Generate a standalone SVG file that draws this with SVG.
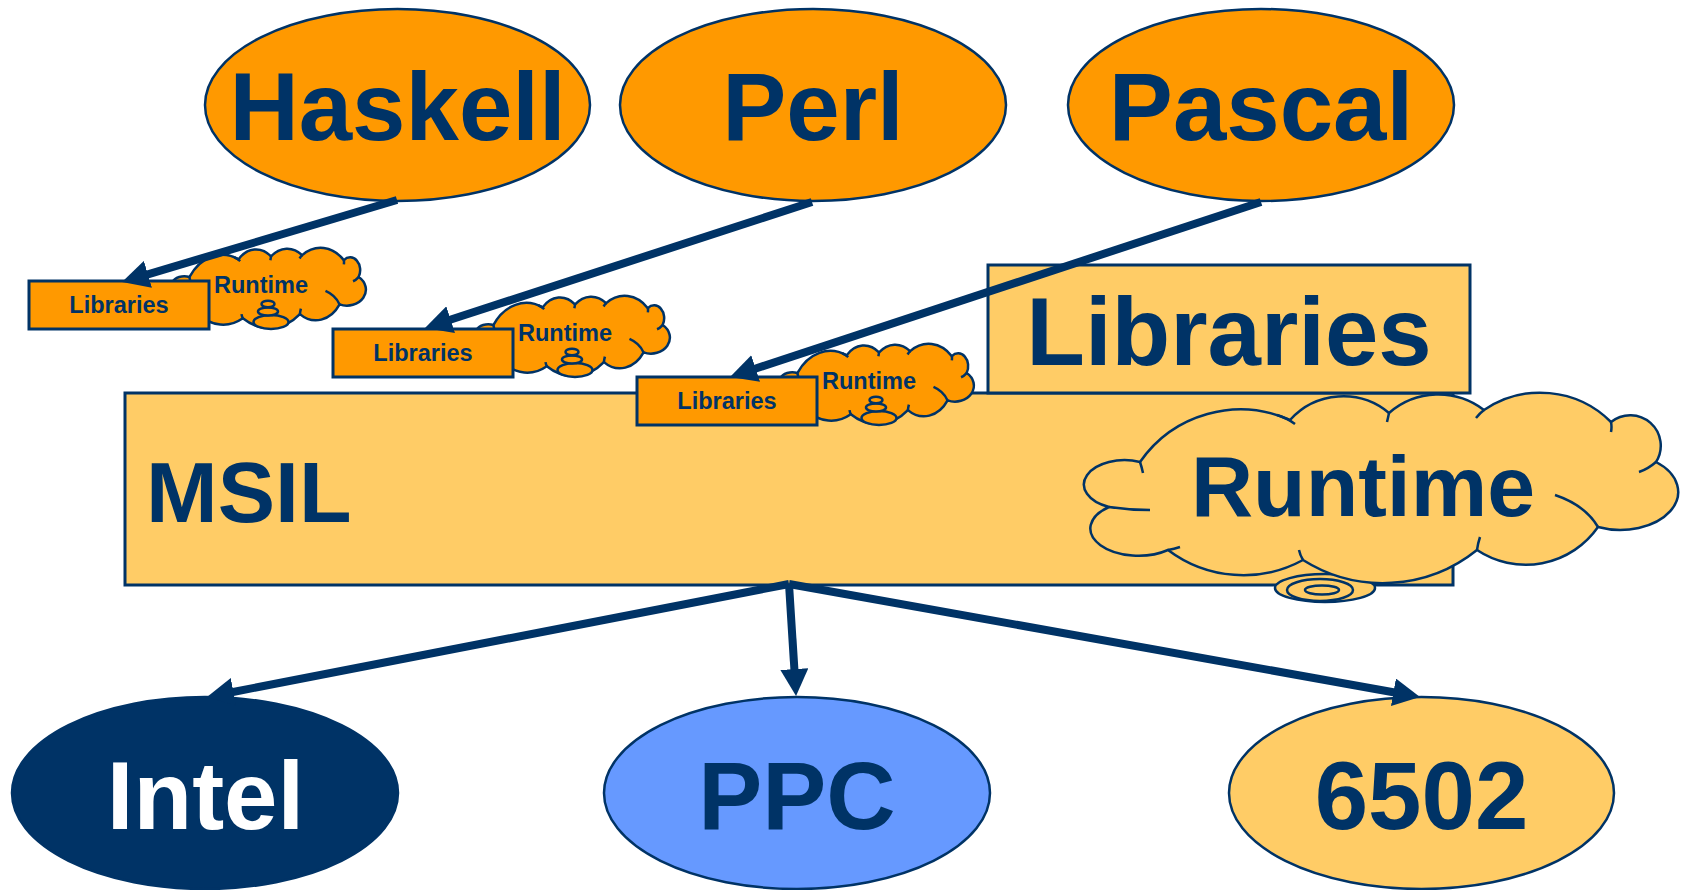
<svg xmlns="http://www.w3.org/2000/svg" width="1683" height="890" viewBox="0 0 1683 890">
<style>
  .t{font-family:"Liberation Sans",Arial,Helvetica,sans-serif;font-weight:bold;fill:#003366}
  .big{font-size:96px;text-anchor:middle}
  .mid{font-size:86px}
  .sm{font-size:23.5px;text-anchor:middle}
  .ol{stroke:#003366;stroke-width:2.5}
  .orange{fill:#FF9900}
  .light{fill:#FFCC66}
  .conn{stroke:#003366;stroke-width:8;fill:none;marker-end:url(#ah)}
</style>
<defs>
  <marker id="ah" markerUnits="userSpaceOnUse" markerWidth="27" markerHeight="28" refX="7" refY="14" orient="auto">
    <path d="M0,0 L27,14 L0,28 z" fill="#003366"/>
  </marker>
  <path id="cloud" vector-effect="non-scaling-stroke" d="M56,69 A122,122 0 0 1 206,27 A71.5,71.5 0 0 1 305,20 A75,75 0 0 1 400,17 A100,100 0 0 1 527,29 A30.5,30.5 0 0 1 572,69 A58,38 0 0 1 514,134 A88,88 0 0 1 393,157 A150,150 0 0 1 219,167 A125,125 0 0 1 84,157 A46,26 0 0 1 25,114 A40,24 0 1 1 56,69 Z"/>
  <path id="cloudArcs" vector-effect="non-scaling-stroke" fill="none" d="M56,69 q2,6 3,11 M193,22 q10,3 18,9 M305,20 q-1,5 -2,9 M400,17 q-4,3 -8,8 M527,29 q1,5 0,10 M572,69 q-8,7 -17,10 M471,102 q30,10 43,32 M393,157 q1,-7 3,-13 M219,167 q-3,-5 -4,-10 M84,157 q6,-1 12,-3 M25,114 q20,3 41,3"/>
</defs>
<rect x="0" y="0" width="1683" height="890" fill="#FFFFFF"/>

<g id="haskell">
  <ellipse cx="397.5" cy="105" rx="192.5" ry="96" class="orange ol"/>
  <text x="397.5" y="140" class="t big">Haskell</text>
</g>
<g id="perl">
  <ellipse cx="813" cy="105" rx="193" ry="96" class="orange ol"/>
  <text x="813" y="140" class="t big">Perl</text>
</g>
<g id="pascal">
  <ellipse cx="1261" cy="105" rx="193" ry="96" class="orange ol"/>
  <text x="1261" y="140" class="t big">Pascal</text>
</g>

<g id="msil">
  <rect x="125" y="393" width="1328" height="192" class="light" stroke="#003366" stroke-width="3"/>
  <text x="146" y="522" class="t mid">MSIL</text>
</g>

<g id="libraries-main">
  <rect x="988" y="265" width="482" height="128" class="light" stroke="#003366" stroke-width="3"/>
  <text x="1229" y="365" class="t big">Libraries</text>
</g>

<g id="runtime-main">
  <ellipse cx="1325" cy="588" rx="50" ry="14" class="light ol"/>
  <ellipse cx="1320" cy="590" rx="33" ry="11" class="light ol"/>
  <ellipse cx="1322" cy="590" rx="17" ry="4.5" class="light ol"/>
  <use href="#cloud" transform="translate(1084,393)" class="light ol"/>
  <use href="#cloudArcs" transform="translate(1084,393)" class="ol"/>
  <text x="1363" y="516" class="t mid" text-anchor="middle">Runtime</text>
</g>

<g id="unit-haskell">
  <use href="#cloud" transform="translate(171,248) scale(0.328,0.421)" class="orange ol"/>
  <use href="#cloudArcs" transform="translate(171,248) scale(0.328,0.421)" class="ol"/>
  <ellipse cx="271" cy="322" rx="17.5" ry="7" class="orange ol"/>
  <ellipse cx="268" cy="311.5" rx="10" ry="4" class="orange ol"/>
  <ellipse cx="268" cy="304" rx="6.5" ry="3.2" class="orange ol"/>
  <text x="261" y="293" class="t sm">Runtime</text>
  <rect x="29" y="281" width="180" height="48" class="orange" stroke="#003366" stroke-width="3"/>
  <text x="119" y="313" class="t sm">Libraries</text>
</g>

<g id="unit-perl" transform="translate(304,48)">
  <use href="#cloud" transform="translate(171,248) scale(0.328,0.421)" class="orange ol"/>
  <use href="#cloudArcs" transform="translate(171,248) scale(0.328,0.421)" class="ol"/>
  <ellipse cx="271" cy="322" rx="17.5" ry="7" class="orange ol"/>
  <ellipse cx="268" cy="311.5" rx="10" ry="4" class="orange ol"/>
  <ellipse cx="268" cy="304" rx="6.5" ry="3.2" class="orange ol"/>
  <text x="261" y="293" class="t sm">Runtime</text>
  <rect x="29" y="281" width="180" height="48" class="orange" stroke="#003366" stroke-width="3"/>
  <text x="119" y="313" class="t sm">Libraries</text>
</g>

<g id="unit-pascal" transform="translate(608,96)">
  <use href="#cloud" transform="translate(171,248) scale(0.328,0.421)" class="orange ol"/>
  <use href="#cloudArcs" transform="translate(171,248) scale(0.328,0.421)" class="ol"/>
  <ellipse cx="271" cy="322" rx="17.5" ry="7" class="orange ol"/>
  <ellipse cx="268" cy="311.5" rx="10" ry="4" class="orange ol"/>
  <ellipse cx="268" cy="304" rx="6.5" ry="3.2" class="orange ol"/>
  <text x="261" y="293" class="t sm">Runtime</text>
  <rect x="29" y="281" width="180" height="48" class="orange" stroke="#003366" stroke-width="3"/>
  <text x="119" y="313" class="t sm">Libraries</text>
</g>

<g id="intel">
  <ellipse cx="205" cy="793" rx="193" ry="96" fill="#003366" class="ol"/>
  <text x="205.5" y="829" class="t big" style="fill:#FFFFFF">Intel</text>
</g>
<g id="ppc">
  <ellipse cx="797" cy="793" rx="193" ry="96" fill="#6699FF" class="ol"/>
  <text x="797" y="829" class="t big">PPC</text>
</g>
<g id="m6502">
  <ellipse cx="1421.5" cy="793" rx="192.5" ry="96" class="light ol"/>
  <text x="1421.5" y="829" class="t big">6502</text>
</g>

<g id="connectors">
  <line x1="397" y1="200" x2="141.2" y2="276.3" class="conn"/>
  <line x1="812" y1="202" x2="444" y2="321.8" class="conn"/>
  <line x1="1261" y1="202" x2="749" y2="370.7" class="conn"/>
  <line x1="789" y1="584" x2="226.6" y2="693.2" class="conn"/>
  <line x1="789" y1="584" x2="794.8" y2="676" class="conn"/>
  <line x1="789" y1="584" x2="1400.3" y2="693.5" class="conn"/>
</g>
</svg>
